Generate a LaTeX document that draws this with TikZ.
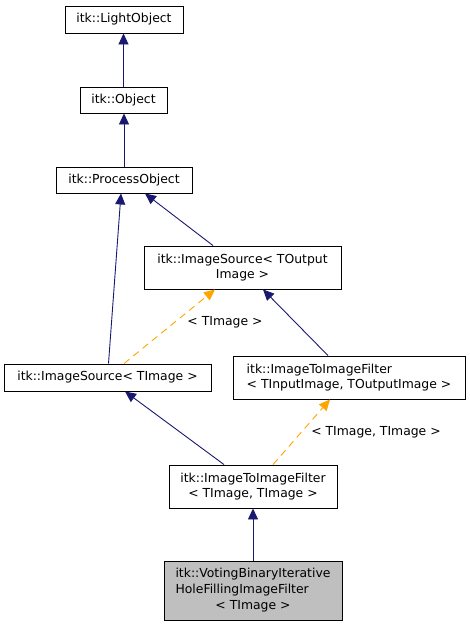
\documentclass[tikz,border=0pt]{standalone}
\usepackage{fontspec}
\setmainfont{DejaVu Sans}
\usetikzlibrary{arrows.meta,calc}
\definecolor{navy}{HTML}{191970}
\definecolor{orng}{HTML}{FFA500}
\definecolor{grayfill}{HTML}{BFBFBF}
\tikzset{
  cls/.style={draw=black, line width=0.9pt, fill=white, inner sep=0pt,
    font=\fontsize{12.4}{15.8}\selectfont},
  inh/.style={draw=navy, line width=0.9pt, -{Triangle[length=11pt,width=10pt]}, navy},
  tmpl/.style={draw=orng, line width=0.9pt, dash pattern=on 7pt off 5pt,
    -{Triangle[length=11pt,width=10pt]}, orng},
  lbl/.style={inner sep=0pt, font=\fontsize{12.4}{15.8}\selectfont}
}
\begin{document}
\begin{tikzpicture}[x=1pt,y=-1pt]
\useasboundingbox (0,0) rectangle (469,627);
\node[cls, minimum width=118pt, minimum height=27pt] (LO) at (124,19.5) {itk::LightObject};
\node[cls, minimum width=87pt, minimum height=26pt] (OB) at (123.5,100) {itk::Object};
\node[cls, minimum width=136pt, minimum height=26pt] (PO) at (124,180) {itk::ProcessObject};
\node[cls, minimum width=197pt, minimum height=43pt, align=center] (ISO) at (242.5,267.5) {itk::ImageSource< TOutput\\Image >};
\node[cls, minimum width=207pt, minimum height=27pt] (ISI) at (107.5,377.5) {itk::ImageSource< TImage >};
\node[cls, minimum width=232pt, minimum height=43pt, align=left] (IFO) at (349,377.5) {itk::ImageToImageFilter\\< TInputImage, TOutputImage >};
\node[cls, minimum width=168pt, minimum height=43pt, align=center] (IFI) at (253,486.5) {itk::ImageToImageFilter\\< TImage, TImage >};
\node[cls, fill=grayfill, minimum width=178pt, minimum height=59pt] (VT) at (253,590.5)
  {\begin{tabular}{@{}l@{}}itk::VotingBinaryIterative\\HoleFillingImageFilter\\\multicolumn{1}{@{}c@{}}{< TImage >}\end{tabular}};
\node[lbl] (L1) at (225,322) {< TImage >};
\node[lbl] (L2) at (376,432) {< TImage, TImage >};
\draw[inh] (OB.north) -- (OB.north |- LO.south);
\draw[inh] (PO.north) -- (PO.north |- OB.south);
\draw[inh] ([xshift=1pt]ISI.north) -- ([xshift=-3pt]PO.south);
\draw[inh] ([xshift=-29.5pt]ISO.north) -- ([xshift=21pt]PO.south);
\draw[tmpl] ([xshift=16.5pt]ISI.north) -- ([xshift=-27.5pt]ISO.south);
\draw[inh] ([xshift=-21pt]IFO.north) -- ([xshift=20.5pt]ISO.south);
\draw[inh] ([xshift=-29pt]IFI.north) -- ([xshift=17.5pt]ISI.south);
\draw[tmpl] ([xshift=20pt]IFI.north) -- ([xshift=-19pt]IFO.south);
\draw[inh] (VT.north) -- (VT.north |- IFI.south);
\end{tikzpicture}
\end{document}
